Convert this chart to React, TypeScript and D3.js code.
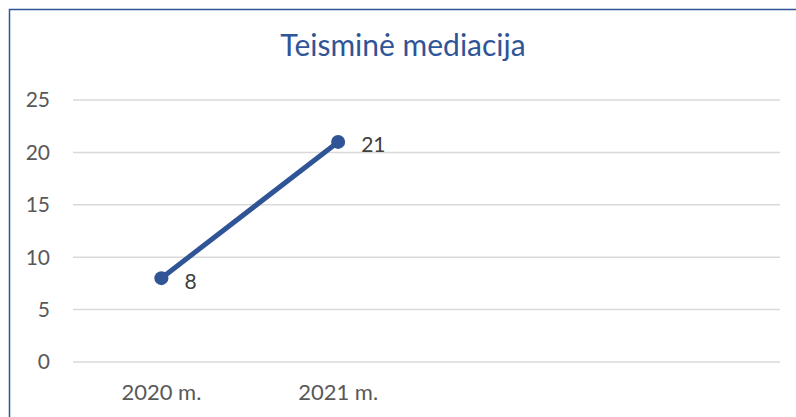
import React from "react";
import * as d3 from "d3";

// chart data
const categories = ["2020 m.", "2021 m.", "c3", "c4"];
const categoryLabels = ["2020 m.", "2021 m.", "", ""];
const values = [8, 21];
const yTicks = [0, 5, 10, 15, 20, 25];
const title = "Teisminė mediacija";

const W = 796;
const H = 417;
const left = 73;
const right = 780;
const top = 100;
const bottom = 362;
const blue = "#2F5597";
const font = "Lato, 'Open Sans', sans-serif";

export default function App() {
  const x = d3.scaleBand().domain(categories).range([left, right]).padding(0);
  const y = d3.scaleLinear().domain([0, 25]).range([bottom, top]);

  const pts = values.map((v, i) => ({ cat: categories[i], v }));
  const line = d3
    .line<{ cat: string; v: number }>()
    .x((d) => x(d.cat)! + x.bandwidth() / 2)
    .y((d) => y(d.v));

  return (
    <svg
      width={W}
      height={H}
      style={{ position: "absolute", left: 0, top: 0, background: "#fff" }}
    >
      <rect x={9.5} y={9.5} width={W + 10} height={H + 10} fill="none" stroke={blue} strokeWidth={1.5} />
      <text x={403} y={56} textAnchor="middle" fill={blue} fontFamily={font} fontSize={30}>
        {title}
      </text>
      {yTicks.map((t) => (
        <g key={t}>
          <line x1={left} x2={right} y1={y(t)} y2={y(t)} stroke="#D9D9D9" strokeWidth={1.5} />
          <text x={50} y={y(t)} dy="0.35em" textAnchor="end" fill="#595959" fontFamily={font} fontSize={21}>
            {t}
          </text>
        </g>
      ))}
      {categories.map((c, i) => (
        <text
          key={c}
          x={x(c)! + x.bandwidth() / 2}
          y={392}
          dy="0.35em"
          textAnchor="middle"
          fill="#595959"
          fontFamily={font}
          fontSize={22}
        >
          {categoryLabels[i]}
        </text>
      ))}
      <path d={line(pts) || ""} fill="none" stroke={blue} strokeWidth={5} strokeLinecap="round" />
      {pts.map((p) => (
        <g key={p.cat}>
          <circle cx={x(p.cat)! + x.bandwidth() / 2} cy={y(p.v)} r={7} fill={blue} />
          <text
            x={x(p.cat)! + x.bandwidth() / 2 + 23}
            y={y(p.v) + 3}
            dy="0.35em"
            fill="#404040"
            fontFamily={font}
            fontSize={21}
          >
            {p.v}
          </text>
        </g>
      ))}
    </svg>
  );
}
